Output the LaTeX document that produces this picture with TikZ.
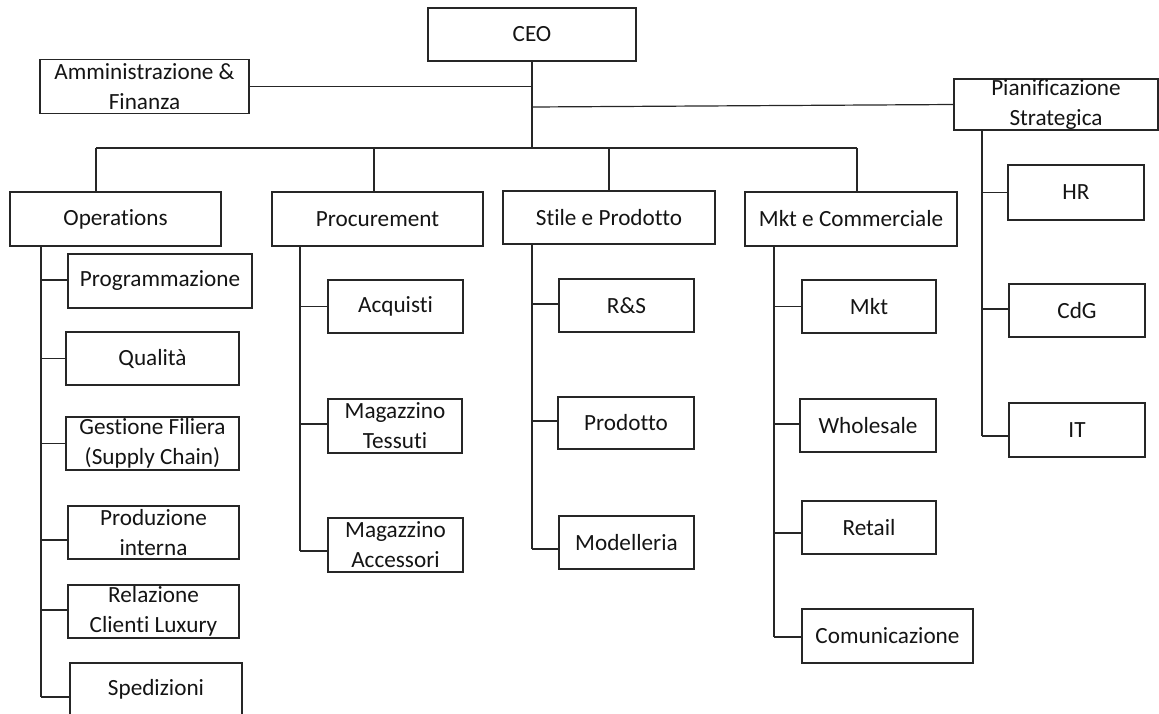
\documentclass[tikz,border=0pt]{standalone}
\usepackage{fontspec}
\setmainfont{Carlito}[Ligatures=NoCommon]
\definecolor{linec}{HTML}{262626}
\definecolor{txt}{HTML}{141414}
\begin{document}
\begin{tikzpicture}[x=1pt,y=-1pt,
  box/.style={draw=linec, line width=1.2pt, inner sep=0pt, align=center,
    text=txt, font=\fontsize{23.2}{30}\selectfont},
  wire/.style={draw=linec, line width=1.2pt}]
\useasboundingbox (0,0) rectangle (1159,713);

% top level
\node[box, minimum width=208pt, minimum height=53pt] (ceo) at (532,34.5) {CEO};
\node[box, minimum width=209pt, minimum height=54pt] (adm) at (144.5,86.5) {Amministrazione \&\\Finanza};
\node[box, minimum width=204pt, minimum height=51pt] (pian) at (1056,104.5) {Pianificazione\\Strategica};

% second level
\node[box, minimum width=211pt, minimum height=54pt] (ops) at (115.5,219) {Operations};
\node[box, minimum width=211pt, minimum height=54pt] (proc) at (377.5,219) {Procurement};
\node[box, minimum width=212pt, minimum height=53pt] (stile) at (609,217.5) {Stile e Prodotto};
\node[box, minimum width=212pt, minimum height=54pt] (mkt) at (851,219) {Mkt e Commerciale};

% Operations units
\node[box, minimum width=184pt, minimum height=54pt] (prog) at (160,281) {Programmazione};
\node[box, minimum width=173pt, minimum height=53pt] (qual) at (152.5,358.5) {Qualità};
\node[box, minimum width=173pt, minimum height=53pt] (gest) at (152.5,443.5) {Gestione Filiera\\(Supply Chain)};
\node[box, minimum width=171pt, minimum height=53pt] (prodi) at (153.5,532.5) {Produzione\\interna};
\node[box, minimum width=171pt, minimum height=53pt] (rel) at (153.5,611.5) {Relazione\\Clienti Luxury};
\node[box, minimum width=172pt, minimum height=53pt] (sped) at (156,689.5) {Spedizioni};

% Procurement units
\node[box, minimum width=135pt, minimum height=53pt] (acq) at (395.5,306.5) {Acquisti};
\node[box, minimum width=134pt, minimum height=54pt] (magt) at (395,426) {Magazzino\\Tessuti};
\node[box, minimum width=135pt, minimum height=54pt] (maga) at (395.5,545) {Magazzino\\Accessori};

% Stile e Prodotto units
\node[box, minimum width=135pt, minimum height=53pt] (rs) at (626.5,305.5) {R\&S};
\node[box, minimum width=136pt, minimum height=52pt] (prod) at (626,423) {Prodotto};
\node[box, minimum width=135pt, minimum height=53pt] (mod) at (626.5,542.5) {Modelleria};

% Mkt e Commerciale units
\node[box, minimum width=134pt, minimum height=53pt] (mk) at (869,306.5) {Mkt};
\node[box, minimum width=136pt, minimum height=53pt] (whole) at (868,425.5) {Wholesale};
\node[box, minimum width=134pt, minimum height=53pt] (retail) at (869,527.5) {Retail};
\node[box, minimum width=171pt, minimum height=54pt] (comm) at (887.5,636) {Comunicazione};

% Pianificazione units
\node[box, minimum width=136pt, minimum height=55pt] (hr) at (1076,192.5) {HR};
\node[box, minimum width=136pt, minimum height=53pt] (cdg) at (1077,310.5) {CdG};
\node[box, minimum width=136pt, minimum height=54pt] (it) at (1077,430) {IT};

% trunks and bus
\coordinate (b1) at (96,148);
\coordinate (b2) at (374,148);
\coordinate (b3) at (609,148);
\coordinate (b4) at (857,148);
\coordinate (opsT) at (41,0);
\coordinate (procT) at (300,0);
\coordinate (stileT) at (532,0);
\coordinate (mktT) at (774,0);
\coordinate (pianT) at (982,0);

\draw[wire] (ceo.south) -- (ceo.south |- b1);
\draw[wire] (adm.east) -- (adm.east -| ceo.south);
\draw[wire] ([yshift=-2.5pt]pian.west -| ceo.south) -- (pian.west);
\draw[wire] (b1) -- (b4);
\foreach \b/\n in {b1/ops, b2/proc, b3/stile, b4/mkt}
  \draw[wire] (\b) -- (\b |- \n.north);

% Operations ladder
\draw[wire] (ops.south -| opsT) -- ([yshift=-7.5pt]sped.west -| opsT);
\foreach \c/\s in {prog/1, qual/0, gest/0, prodi/-7.5, rel/1.5, sped/-7.5}
  \draw[wire] ([yshift=\s pt]\c.west) -- ([yshift=\s pt]\c.west -| opsT);

% Procurement ladder
\draw[wire] (proc.south -| procT) -- ([yshift=-6pt]maga.west -| procT);
\foreach \c/\s in {acq/0, magt/2, maga/-6}
  \draw[wire] ([yshift=\s pt]\c.west) -- ([yshift=\s pt]\c.west -| procT);

% Stile e Prodotto ladder
\draw[wire] (stile.south -| stileT) -- ([yshift=-6.5pt]mod.west -| stileT);
\foreach \c/\s in {rs/1.5, prod/2, mod/-6.5}
  \draw[wire] ([yshift=\s pt]\c.west) -- ([yshift=\s pt]\c.west -| stileT);

% Mkt e Commerciale ladder
\draw[wire] (mkt.south -| mktT) -- ([yshift=-1pt]comm.west -| mktT);
\foreach \c/\s in {mk/0, whole/1.5, retail/-5.5, comm/-1}
  \draw[wire] ([yshift=\s pt]\c.west) -- ([yshift=\s pt]\c.west -| mktT);

% Pianificazione ladder
\draw[wire] (pian.south -| pianT) -- ([yshift=-6pt]it.west -| pianT);
\foreach \c/\s in {hr/0, cdg/1.5, it/-6}
  \draw[wire] ([yshift=\s pt]\c.west) -- ([yshift=\s pt]\c.west -| pianT);
\end{tikzpicture}
\end{document}
